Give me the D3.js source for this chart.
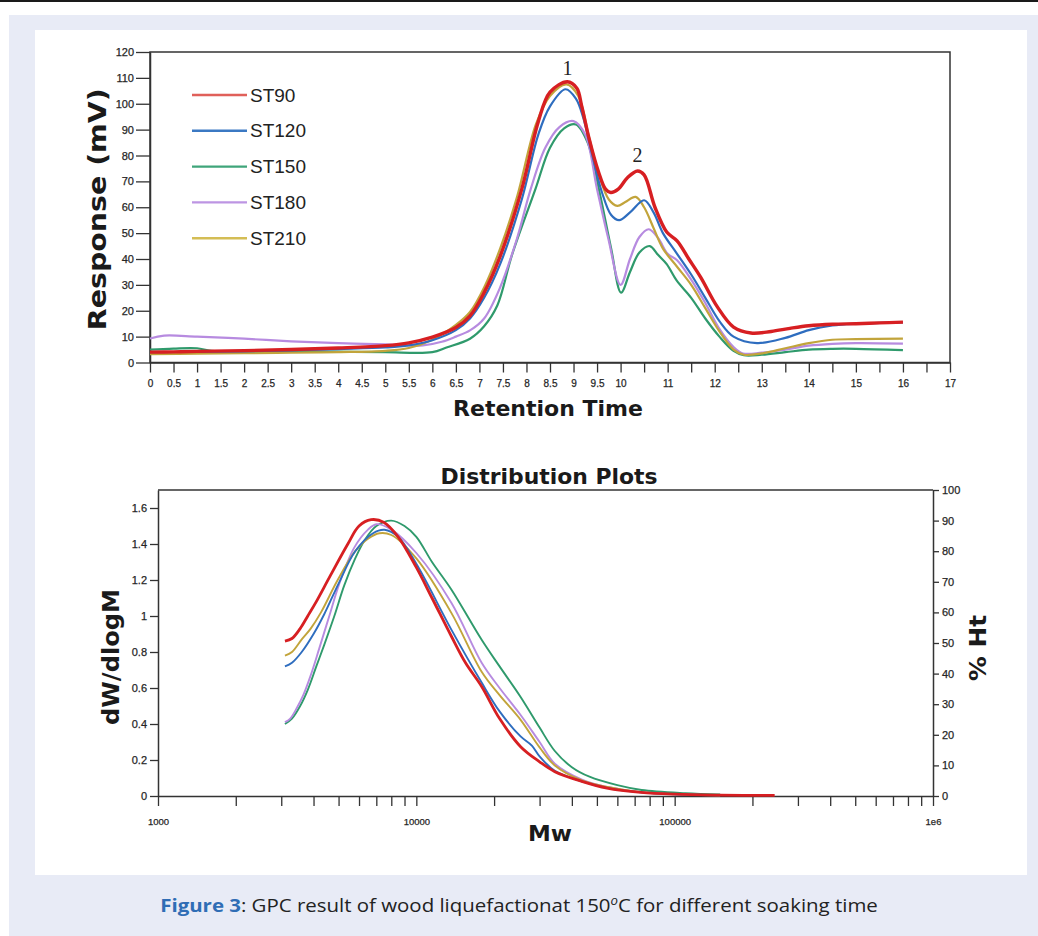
<!DOCTYPE html>
<html>
<head>
<meta charset="utf-8">
<script src="https://cdn.jsdelivr.net/npm/d3@7"></script>
<style>
  body { margin: 0; background: #fff; }
  svg { display: block; }
</style>
</head>
<body>
<svg id="fig" width="1038" height="936"></svg>
<script>
// ── Data ──

const seriesNames = ["ST90", "ST120", "ST150", "ST180", "ST210"];

// Chromatograms: [retention time, response mV]
const st90Trace = [[0,4.0],[0.5,4.1],[1,4.3],[2,4.6],[3,5.0],[4,5.6],[5,6.5],[5.5,7.6],[6,9.8],[6.5,13.5],[6.8,18],[7.1,27],[7.44,41],[7.9,67],[8.25,93],[8.5,104.5],[8.87,108.5],[9.07,106],[9.17,99.4],[9.33,86.6],[9.53,73.7],[9.68,67],[9.79,65.7],[9.95,67],[10.15,71.5],[10.36,74],[10.5,72.5],[10.73,60],[10.98,50.4],[11.2,47],[11.45,40],[11.7,33],[12.06,21.4],[12.4,13.7],[12.77,11.4],[13.2,12],[13.6,13.2],[14,14.2],[14.5,14.8],[15,15],[15.5,15.3],[16,15.6]];
const st120Trace = [[0,4.0],[1,4.1],[2,4.3],[3,4.7],[4,5.2],[5,5.8],[5.5,6.6],[6,8.6],[6.5,12.5],[6.8,17],[7.1,25],[7.44,38],[7.9,63],[8.25,88],[8.5,99],[8.83,105.6],[9.05,102],[9.2,95],[9.4,80],[9.6,66],[9.8,57],[9.97,55],[10.2,58],[10.5,62.7],[10.7,58],[10.9,50],[11.2,42],[11.5,34],[11.8,25],[12.1,16],[12.4,10],[12.9,7.5],[13.5,9.5],[14,12.5],[14.5,14.3],[15,15],[16,15.5]];
const st150Trace = [[0,5.0],[0.5,5.4],[1,5.5],[1.3,4.5],[2,4.3],[3,4.3],[4,4.2],[5,4.0],[6,4.0],[6.3,5.8],[6.8,9.2],[7.1,14],[7.38,22],[7.69,41.4],[8.19,67],[8.5,83],[8.8,90.5],[9.05,92],[9.3,85],[9.55,66],[9.8,44],[10.01,27],[10.2,35],[10.4,42.5],[10.62,45],[10.8,41.5],[10.98,38],[11.19,31.7],[11.5,25],[11.8,17],[12.1,10],[12.4,4.5],[12.62,2.8],[13,3],[13.5,4],[14,5],[14.5,5.3],[15,5.3],[16,4.8]];
const st180Trace = [[0,9.3],[0.3,10.4],[1,10],[2,9.2],[3,8.2],[4,7.5],[5,7.0],[5.8,6.6],[6.2,8],[6.5,10],[6.8,12.4],[7.1,17],[7.44,29],[7.8,48],[8.09,67],[8.4,83],[8.7,91],[9.0,93.3],[9.25,88],[9.5,67],[9.74,47.8],[10.0,30],[10.2,40],[10.4,48.5],[10.6,51.5],[10.8,48],[11.0,42],[11.2,39.5],[11.5,32],[11.8,23],[12.1,13],[12.4,6],[12.6,3.5],[13,3.8],[13.5,5],[14,6.5],[14.5,7.2],[15,7.5],[16,7.3]];
const st210Trace = [[0,3.2],[1,3.4],[2,3.6],[3,3.8],[4,4.0],[5,4.5],[5.5,5.6],[6,8.8],[6.5,14.5],[6.8,19.5],[7.1,29],[7.44,44],[7.8,64],[8.2,92],[8.5,103],[8.85,107.5],[9.1,103],[9.33,87],[9.55,72],[9.75,63],[9.93,60.5],[10.1,62],[10.32,64],[10.5,60],[10.7,52],[10.9,44],[11.2,37],[11.5,30],[11.8,21],[12.1,12],[12.4,5],[12.62,3],[13,3.5],[13.5,5.5],[14,7.5],[14.5,8.8],[15,9],[16,9.2]];

// Distribution plots: [Mw, dW/dlogM]
const st90Dist = [[3100,0.86],[3300,0.875],[3550,0.93],[3800,1.0],[4100,1.08],[4630,1.22],[5430,1.4],[6000,1.5],[6683,1.535],[7500,1.52],[8500,1.44],[10000,1.27],[11500,1.1],[13680,0.886],[15500,0.74],[17900,0.608],[21000,0.43],[25330,0.274],[30000,0.19],[34360,0.135],[44000,0.08],[54700,0.044],[74000,0.02],[100000,0.01],[150000,0.005],[243800,0.003]];
const st120Dist = [[3100,0.72],[3300,0.74],[3600,0.8],[4000,0.9],[4400,1.01],[5000,1.18],[5800,1.36],[6800,1.46],[7530,1.479],[8500,1.44],[10000,1.29],[13680,0.923],[17900,0.63],[21000,0.47],[25330,0.331],[28000,0.28],[30000,0.22],[34360,0.14],[44000,0.08],[54700,0.045],[74000,0.02],[100000,0.01],[150000,0.005]];
const st150Dist = [[3100,0.40],[3300,0.43],[3550,0.5],[3800,0.59],[4100,0.72],[4400,0.84],[4815,1.0],[5260,1.17],[5800,1.32],[6300,1.42],[7000,1.5],[8000,1.53],[9000,1.5],[10000,1.44],[11500,1.3],[13680,1.146],[17900,0.868],[21000,0.72],[25330,0.55],[30000,0.38],[34360,0.25],[40000,0.16],[46800,0.107],[60000,0.06],[74500,0.033],[110000,0.015],[150000,0.008]];
const st180Dist = [[3100,0.41],[3250,0.43],[3450,0.49],[3650,0.56],[3900,0.67],[4210,0.82],[4603,1.0],[5035,1.18],[5750,1.38],[6500,1.48],[7000,1.51],[8000,1.48],[10000,1.35],[13680,1.072],[17900,0.74],[21000,0.6],[25330,0.45],[30000,0.3],[34360,0.18],[44000,0.09],[55000,0.05],[75000,0.02],[110000,0.008],[150000,0.004]];
const st210Dist = [[3100,0.78],[3300,0.8],[3600,0.87],[3900,0.93],[4275,1.02],[4960,1.2],[5800,1.36],[6500,1.43],[7200,1.46],[8000,1.45],[10000,1.32],[13680,1.016],[17900,0.69],[21000,0.56],[25330,0.423],[30000,0.27],[34360,0.17],[44000,0.085],[55000,0.05],[75000,0.02],[110000,0.008],[150000,0.004]];

const responseTicks = [0,10,20,30,40,50,60,70,80,90,100,110,120];
const retentionTicks = [0,0.5,1,1.5,2,2.5,3,3.5,4,4.5,5,5.5,6,6.5,7,7.5,8,8.5,9,9.5,10,10.5,11,11.5,12,12.5,13,13.5,14,14.5,15,15.5,16,16.5,17];
const retentionLabelled = [0,0.5,1,1.5,2,2.5,3,3.5,4,4.5,5,5.5,6,6.5,7,7.5,8,8.5,9,9.5,10,11,12,13,14,15,16,17];
const dwTicks = [0,0.2,0.4,0.6,0.8,1,1.2,1.4,1.6];
const htTicks = [0,10,20,30,40,50,60,70,80,90,100];
const mwDecades = [1000, 10000, 100000];
const mwTickLabels = ["1000", "10000", "100000", "1e6"];

// ── Styles ──
const colors = { ST90: "#d71f22", ST120: "#2e6dbf", ST150: "#2f9a6c", ST180: "#b78be0", ST210: "#c2a43b" };
const legendColors = { ST90: "#e0605a", ST120: "#3b79c3", ST150: "#3fa57a", ST180: "#bd95e3", ST210: "#d4bd55" };
const traces = { ST90: st90Trace, ST120: st120Trace, ST150: st150Trace, ST180: st180Trace, ST210: st210Trace };
const dists = { ST90: st90Dist, ST120: st120Dist, ST150: st150Dist, ST180: st180Dist, ST210: st210Dist };
const drawOrder = ["ST150", "ST180", "ST210", "ST120", "ST90"];
const labelFont = "'Liberation Sans', Arial, sans-serif";
const titleFont = "'DejaVu Sans', Verdana, sans-serif";

const svg = d3.select("#fig");

// Page background, panel and top rule
svg.append("rect").attr("width", 1038).attr("height", 936).attr("fill", "#fff");
svg.append("rect").attr("x", 9).attr("y", 15).attr("width", 1029).attr("height", 921).attr("fill", "#e8ebf6");
svg.append("rect").attr("x", 35).attr("y", 30).attr("width", 992).attr("height", 845).attr("fill", "#fff");
svg.append("rect").attr("x", 0).attr("y", 0).attr("width", 1038).attr("height", 2).attr("fill", "#1a1a1a");

function fitText(sel, width) {
  sel.attr("textLength", width).attr("lengthAdjust", "spacingAndGlyphs");
}

function styleAxis(g, fontSize) {
  g.selectAll("path.domain").attr("stroke", "#333").attr("stroke-width", 1.5);
  g.selectAll(".tick line").attr("stroke", "#333").attr("stroke-width", 1.3);
  g.selectAll(".tick text").attr("fill", "#262626").attr("font-family", labelFont)
    .attr("font-size", fontSize).attr("stroke", "#262626").attr("stroke-width", 0.25);
}

// ── Top chart: chromatograms ──
const xT = d3.scaleLinear().domain([0, 17]).range([150, 950]);
const yT = d3.scaleLinear().domain([0, 120]).range([362.5, 52]);

const topChart = svg.append("g");

const yAxisT = topChart.append("g")
  .attr("transform", `translate(${xT(0)},0)`)
  .call(d3.axisLeft(yT).tickValues(responseTicks).tickSize(14).tickSizeOuter(0).tickPadding(2));
styleAxis(yAxisT, 11);

const xAxisT = topChart.append("g")
  .attr("transform", `translate(0,${yT(0)})`)
  .call(d3.axisBottom(xT).tickValues(retentionTicks).tickSize(10).tickSizeOuter(0).tickPadding(7)
    .tickFormat((d) => retentionLabelled.includes(d) ? String(d) : ""));
styleAxis(xAxisT, 10);

topChart.append("rect")
  .attr("x", xT(0)).attr("y", yT(120))
  .attr("width", xT(17) - xT(0)).attr("height", yT(0) - yT(120))
  .attr("fill", "none").attr("stroke", "#333").attr("stroke-width", 1.5);

const lineT = d3.line()
  .x((p) => xT(p[0]))
  .y((p) => yT(p[1]))
  .curve(d3.curveCatmullRom.alpha(0.5));

drawOrder.forEach((name) => {
  topChart.append("path")
    .datum(traces[name])
    .attr("d", lineT)
    .attr("fill", "none")
    .attr("stroke", colors[name])
    .attr("stroke-width", name === "ST90" ? 3.4 : 2.2)
    .attr("stroke-linejoin", "round");
});

// Peak numbers
topChart.append("text").attr("x", xT(8.87)).attr("y", yT(111.2))
  .attr("text-anchor", "middle").attr("font-family", "'Liberation Serif', 'Times New Roman', serif")
  .attr("font-size", 20).attr("fill", "#222").text("1");
topChart.append("text").attr("x", xT(10.36)).attr("y", yT(77.5))
  .attr("text-anchor", "middle").attr("font-family", "'Liberation Serif', 'Times New Roman', serif")
  .attr("font-size", 20).attr("fill", "#222").text("2");

// Legend
const legend = topChart.append("g").attr("transform", "translate(192,95)");
seriesNames.forEach((name, i) => {
  const row = legend.append("g").attr("transform", `translate(0,${i * 35.8})`);
  row.append("line").attr("x1", 0).attr("x2", 55).attr("y1", 0).attr("y2", 0)
    .attr("stroke", legendColors[name]).attr("stroke-width", 2.4);
  row.append("text").attr("x", 58).attr("y", 6.5)
    .attr("font-family", labelFont).attr("font-size", 19).attr("fill", "#222").text(name);
});

// Axis titles
topChart.append("text")
  .attr("transform", `translate(106,${(yT(0) + yT(120)) / 2 + 2}) rotate(-90)`)
  .attr("text-anchor", "middle").attr("font-family", titleFont).attr("font-weight", "bold")
  .attr("font-size", 25).attr("fill", "#1a1a1a").text("Response (mV)")
  .call(fitText, 242);
topChart.append("text")
  .attr("x", 548).attr("y", 416)
  .attr("text-anchor", "middle").attr("font-family", titleFont).attr("font-weight", "bold")
  .attr("font-size", 22).attr("fill", "#1a1a1a").text("Retention Time")
  .call(fitText, 190);

// ── Bottom chart: distribution plots ──
const xB = d3.scaleLog().domain([1000, 1e6]).range([158, 933]);
const yB = d3.scaleLinear().domain([0, 1.7]).range([796, 490]);
const yB2 = d3.scaleLinear().domain([0, 100]).range([796, 490]);

const bottomChart = svg.append("g");

const mwTicks = [];
mwDecades.forEach((decade) => {
  for (let k = 1; k <= 9; k++) mwTicks.push(decade * k);
});
mwTicks.push(1e6);
const mwLabelAt = new Map([...mwDecades, 1e6].map((v, i) => [v, mwTickLabels[i]]));

const xAxisB = bottomChart.append("g")
  .attr("transform", `translate(0,${yB(0)})`)
  .call(d3.axisBottom(xB).tickValues(mwTicks).tickSize(10).tickSizeOuter(0).tickPadding(12)
    .tickFormat((d) => mwLabelAt.get(d) || ""));
styleAxis(xAxisB, 9.5);

const yAxisB = bottomChart.append("g")
  .attr("transform", `translate(${xB(1000)},0)`)
  .call(d3.axisLeft(yB).tickValues(dwTicks).tickSize(8).tickSizeOuter(0).tickPadding(3)
    .tickFormat((d) => String(d)));
styleAxis(yAxisB, 11);

const yAxisB2 = bottomChart.append("g")
  .attr("transform", `translate(${xB(1e6)},0)`)
  .call(d3.axisRight(yB2).tickValues(htTicks).tickSize(6).tickSizeOuter(0).tickPadding(3));
styleAxis(yAxisB2, 11);

bottomChart.append("line")
  .attr("x1", xB(1000)).attr("x2", xB(1e6)).attr("y1", yB2(100)).attr("y2", yB2(100))
  .attr("stroke", "#333").attr("stroke-width", 1.5);

const lineB = d3.line()
  .x((p) => xB(p[0]))
  .y((p) => yB(p[1]))
  .curve(d3.curveCatmullRom.alpha(0.5));

drawOrder.forEach((name) => {
  bottomChart.append("path")
    .datum(dists[name])
    .attr("d", lineB)
    .attr("fill", "none")
    .attr("stroke", colors[name])
    .attr("stroke-width", name === "ST90" ? 2.8 : 1.9)
    .attr("stroke-linejoin", "round");
});

bottomChart.append("text")
  .attr("x", 549).attr("y", 484)
  .attr("text-anchor", "middle").attr("font-family", titleFont).attr("font-weight", "bold")
  .attr("font-size", 22).attr("fill", "#1a1a1a").text("Distribution Plots")
  .call(fitText, 217);
bottomChart.append("text")
  .attr("x", 550).attr("y", 841)
  .attr("text-anchor", "middle").attr("font-family", titleFont).attr("font-weight", "bold")
  .attr("font-size", 22).attr("fill", "#1a1a1a").text("Mw")
  .call(fitText, 44);
bottomChart.append("text")
  .attr("transform", "translate(119,657) rotate(-90)")
  .attr("text-anchor", "middle").attr("font-family", titleFont).attr("font-weight", "bold")
  .attr("font-size", 23).attr("fill", "#1a1a1a").text("dW/dlogM")
  .call(fitText, 136);
bottomChart.append("text")
  .attr("transform", "translate(986,648) rotate(-90)")
  .attr("text-anchor", "middle").attr("font-family", titleFont).attr("font-weight", "bold")
  .attr("font-size", 23).attr("fill", "#1a1a1a").text("% Ht")
  .call(fitText, 66);

// ── Caption ──
const caption = svg.append("text")
  .attr("text-anchor", "middle")
  .attr("font-family", "'Open Sans', 'Noto Sans', sans-serif")
  .attr("font-size", 18.5).attr("fill", "#222");
caption.append("tspan").attr("fill", "#2f6db5").attr("font-weight", "bold").text("Figure 3");
caption.append("tspan").text(": GPC result of wood liquefactionat 150");
caption.append("tspan").attr("font-style", "italic").attr("font-size", 12).attr("dy", -7).text("o");
caption.append("tspan").attr("dy", 7).text("C for different soaking time");
const capWidth = caption.node().getComputedTextLength();
caption.attr("transform", `translate(519,912) scale(${718 / capWidth},1)`);
</script>
</body>
</html>
